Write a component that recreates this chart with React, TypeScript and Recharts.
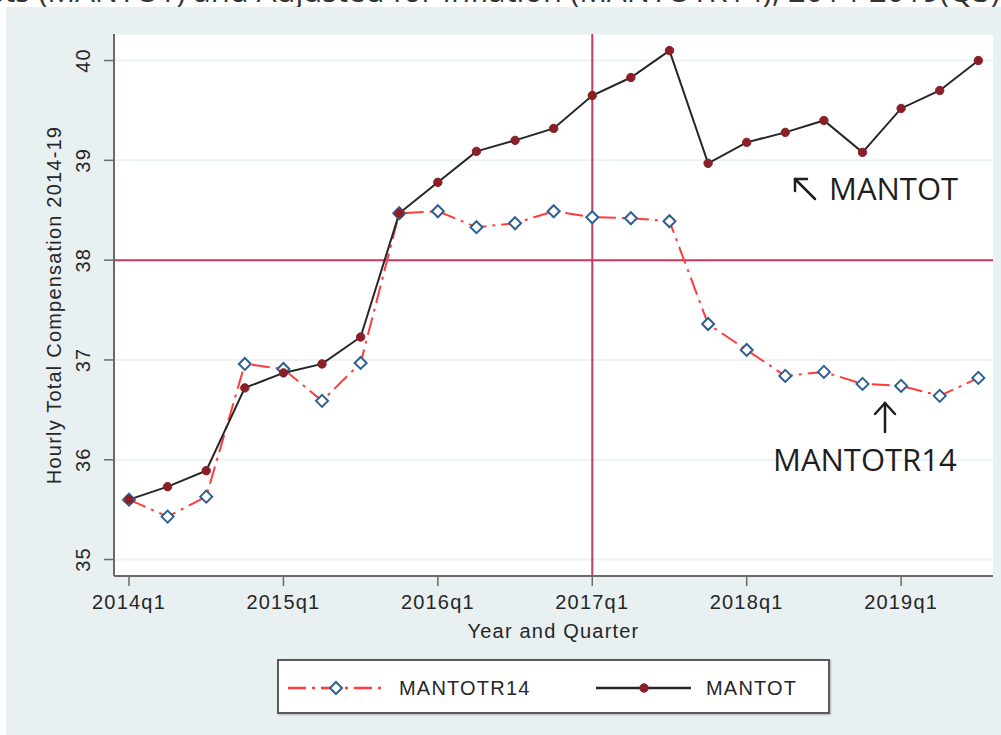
import React from "react";
import {
  LineChart,
  Line,
  XAxis,
  YAxis,
  CartesianGrid,
  ReferenceLine,
} from "recharts";

const quarters = [
  "2014q1", "2014q2", "2014q3", "2014q4",
  "2015q1", "2015q2", "2015q3", "2015q4",
  "2016q1", "2016q2", "2016q3", "2016q4",
  "2017q1", "2017q2", "2017q3", "2017q4",
  "2018q1", "2018q2", "2018q3", "2018q4",
  "2019q1", "2019q2", "2019q3",
];

const mantot = [
  35.6, 35.73, 35.89, 36.72, 36.87, 36.96, 37.23, 38.47,
  38.78, 39.09, 39.2, 39.32, 39.65, 39.83, 40.1, 38.97,
  39.18, 39.28, 39.4, 39.08, 39.52, 39.7, 40.0,
];

const mantotr14 = [
  35.6, 35.43, 35.63, 36.96, 36.91, 36.59, 36.97, 38.47,
  38.49, 38.33, 38.37, 38.49, 38.43, 38.42, 38.39, 37.36,
  37.1, 36.84, 36.88, 36.76, 36.74, 36.64, 36.82,
];

const xTicks = [0, 4, 8, 12, 16, 20];
const yTicks = [35, 36, 37, 38, 39, 40];
const refY = 38;
const refXIndex = 12;

const data = quarters.map((q, i) => ({
  i,
  q,
  MANTOT: mantot[i],
  MANTOTR14: mantotr14[i],
}));

const FONT = "'Liberation Sans', Arial, Helvetica, sans-serif";
const TEXT = "#262626";
const LS = 1.2;

const XTick = (props: any) => {
  const { x, y, payload } = props;
  return (
    <text
      x={x}
      y={y + 23}
      textAnchor="middle"
      fontFamily={FONT}
      fontSize={20}
      letterSpacing={LS}
      fill={TEXT}
    >
      {quarters[payload.value]}
    </text>
  );
};

const YTick = (props: any) => {
  const { x, y, payload } = props;
  const bx = x - 14;
  return (
    <text
      x={0}
      y={0}
      transform={`translate(${bx},${y}) rotate(-90)`}
      textAnchor="middle"
      fontFamily={FONT}
      fontSize={20}
      letterSpacing={LS}
      fill={TEXT}
    >
      {payload.value}
    </text>
  );
};

const Diamond = (props: any) => {
  const { cx, cy } = props;
  if (cx == null || cy == null) return null;
  const s = 6;
  return (
    <path
      d={`M${cx},${cy - s} L${cx + s},${cy} L${cx},${cy + s} L${cx - s},${cy} Z`}
      fill="#ffffff"
      stroke="#2f5f8f"
      strokeWidth={2}
    />
  );
};

const Dot = (props: any) => {
  const { cx, cy } = props;
  if (cx == null || cy == null) return null;
  return <circle cx={cx} cy={cy} r={4.2} fill="#8a1f28" stroke="#8a1f28" strokeWidth={1} />;
};

const XLabel = (props: any) => {
  const vb = props.viewBox || {};
  return (
    <text
      x={vb.x + vb.width / 2}
      y={vb.y + 62}
      textAnchor="middle"
      fontFamily={FONT}
      fontSize={20}
      letterSpacing={LS}
      fill={TEXT}
    >
      Year and Quarter
    </text>
  );
};

const YLabel = (props: any) => {
  const vb = props.viewBox || {};
  const cx = vb.x + 47;
  const cy = vb.y + vb.height / 2;
  return (
    <text
      x={0}
      y={0}
      transform={`translate(${cx},${cy}) rotate(-90)`}
      textAnchor="middle"
      fontFamily={FONT}
      fontSize={20}
      letterSpacing={LS}
      fill={TEXT}
    >
      Hourly Total Compensation 2014-19
    </text>
  );
};

const RED_DASH = "18 6 3 6";

export default function App() {
  return (
    <div
      style={{
        position: "absolute",
        left: 0,
        top: 0,
        width: 1001,
        height: 735,
        background: "#ffffff",
        overflow: "hidden",
      }}
    >
      {/* cut-off title, as in the source image */}
      <svg
        width={1001}
        height={8}
        style={{ position: "absolute", left: 0, top: 0 }}
      >
        <text
          x={1000}
          y={2}
          textAnchor="end"
          fontFamily="'Open Sans', sans-serif"
          fontSize={31}
          fill="#333"
        >
          Manufacturing Hourly Total Compensation Costs (MANTOT) and Adjusted for Inflation (MANTOTR14), 2014-2019(Q3)
        </text>
      </svg>
      <div
        style={{
          position: "absolute",
          left: 6,
          top: 7,
          right: 0,
          bottom: 0,
          background: "#e8f0f2",
        }}
      />
      <div style={{ position: "absolute", left: 0, top: 0 }}>
        <LineChart
          width={1001}
          height={735}
          data={data}
          margin={{ top: 34, right: 8, bottom: 79, left: 14 }}
        >
          <CartesianGrid
            horizontal={true}
            vertical={false}
            stroke="#edf2f4"
            strokeWidth={2}
            fill="#ffffff"
          />
          <XAxis
            type="number"
            dataKey="i"
            domain={[-0.389, 22.38]}
            ticks={xTicks}
            interval={0}
            height={80}
            tickSize={10}
            tickMargin={0}
            tick={<XTick />}
            axisLine={{ stroke: "#6a6a6a", strokeWidth: 2 }}
            tickLine={{ stroke: "#6a6a6a", strokeWidth: 1.5 }}
            label={<XLabel />}
            allowDataOverflow
          />
          <YAxis
            type="number"
            domain={[34.835, 40.266]}
            ticks={yTicks}
            interval={0}
            width={100}
            tickSize={10}
            tickMargin={0}
            tick={<YTick />}
            axisLine={{ stroke: "#6a6a6a", strokeWidth: 2 }}
            tickLine={{ stroke: "#6a6a6a", strokeWidth: 1.5 }}
            label={<YLabel />}
            allowDataOverflow
          />
          <ReferenceLine y={refY} stroke="#c93a5f" strokeWidth={2} />
          <ReferenceLine x={refXIndex} stroke="#c93a5f" strokeWidth={2} />
          <Line
            type="linear"
            dataKey="MANTOTR14"
            stroke="#ff3b3b"
            strokeWidth={2}
            strokeDasharray={RED_DASH}
            dot={<Diamond />}
            activeDot={false}
            isAnimationActive={false}
          />
          <Line
            type="linear"
            dataKey="MANTOT"
            stroke="#262626"
            strokeWidth={2}
            dot={<Dot />}
            activeDot={false}
            isAnimationActive={false}
          />
        </LineChart>
      </div>
      {/* annotations */}
      <svg
        width={1001}
        height={735}
        style={{ position: "absolute", left: 0, top: 0, pointerEvents: "none" }}
      >
        <g stroke="#1e1e1e" strokeWidth={2.5} fill="none" strokeLinecap="round">
          <line x1={815} y1={199} x2={795} y2={179} />
          <line x1={795} y1={179} x2={807} y2={179} />
          <line x1={795} y1={179} x2={795} y2={191} />
          <line x1={885} y1={432} x2={885} y2={403} />
          <line x1={885} y1={403} x2={875} y2={414} />
          <line x1={885} y1={403} x2={895} y2={414} />
        </g>
        <text
          x={829}
          y={200}
          fontFamily="'Open Sans', sans-serif"
          fontSize={31}
          fill="#1e1e1e"
        >
          MANTOT
        </text>
        <text
          x={773}
          y={471}
          fontFamily="'Open Sans', sans-serif"
          fontSize={31}
          fill="#1e1e1e"
        >
          MANTOTR14
        </text>
      </svg>
      {/* legend */}
      <div
        style={{
          position: "absolute",
          left: 277,
          top: 659,
          width: 553,
          height: 55,
          boxSizing: "border-box",
          border: "2px solid #5a5a5a",
          background: "#ffffff",
          boxShadow: "1px 1px 2px rgba(0,0,0,0.25)",
        }}
      >
        <svg width={549} height={51} style={{ position: "absolute", left: 0, top: 0 }}>
          <line
            x1={9}
            y1={27}
            x2={105}
            y2={27}
            stroke="#ff3b3b"
            strokeWidth={2.5}
            strokeDasharray={RED_DASH}
          />
          <Diamond cx={57} cy={27} />
          <text
            x={120}
            y={34}
            fontFamily={FONT}
            fontSize={20}
            letterSpacing={LS}
            fill={TEXT}
          >
            MANTOTR14
          </text>
          <line x1={317} y1={27} x2={412} y2={27} stroke="#262626" strokeWidth={2.5} />
          <Dot cx={365} cy={27} />
          <text
            x={427}
            y={34}
            fontFamily={FONT}
            fontSize={20}
            letterSpacing={LS}
            fill={TEXT}
          >
            MANTOT
          </text>
        </svg>
      </div>
    </div>
  );
}
